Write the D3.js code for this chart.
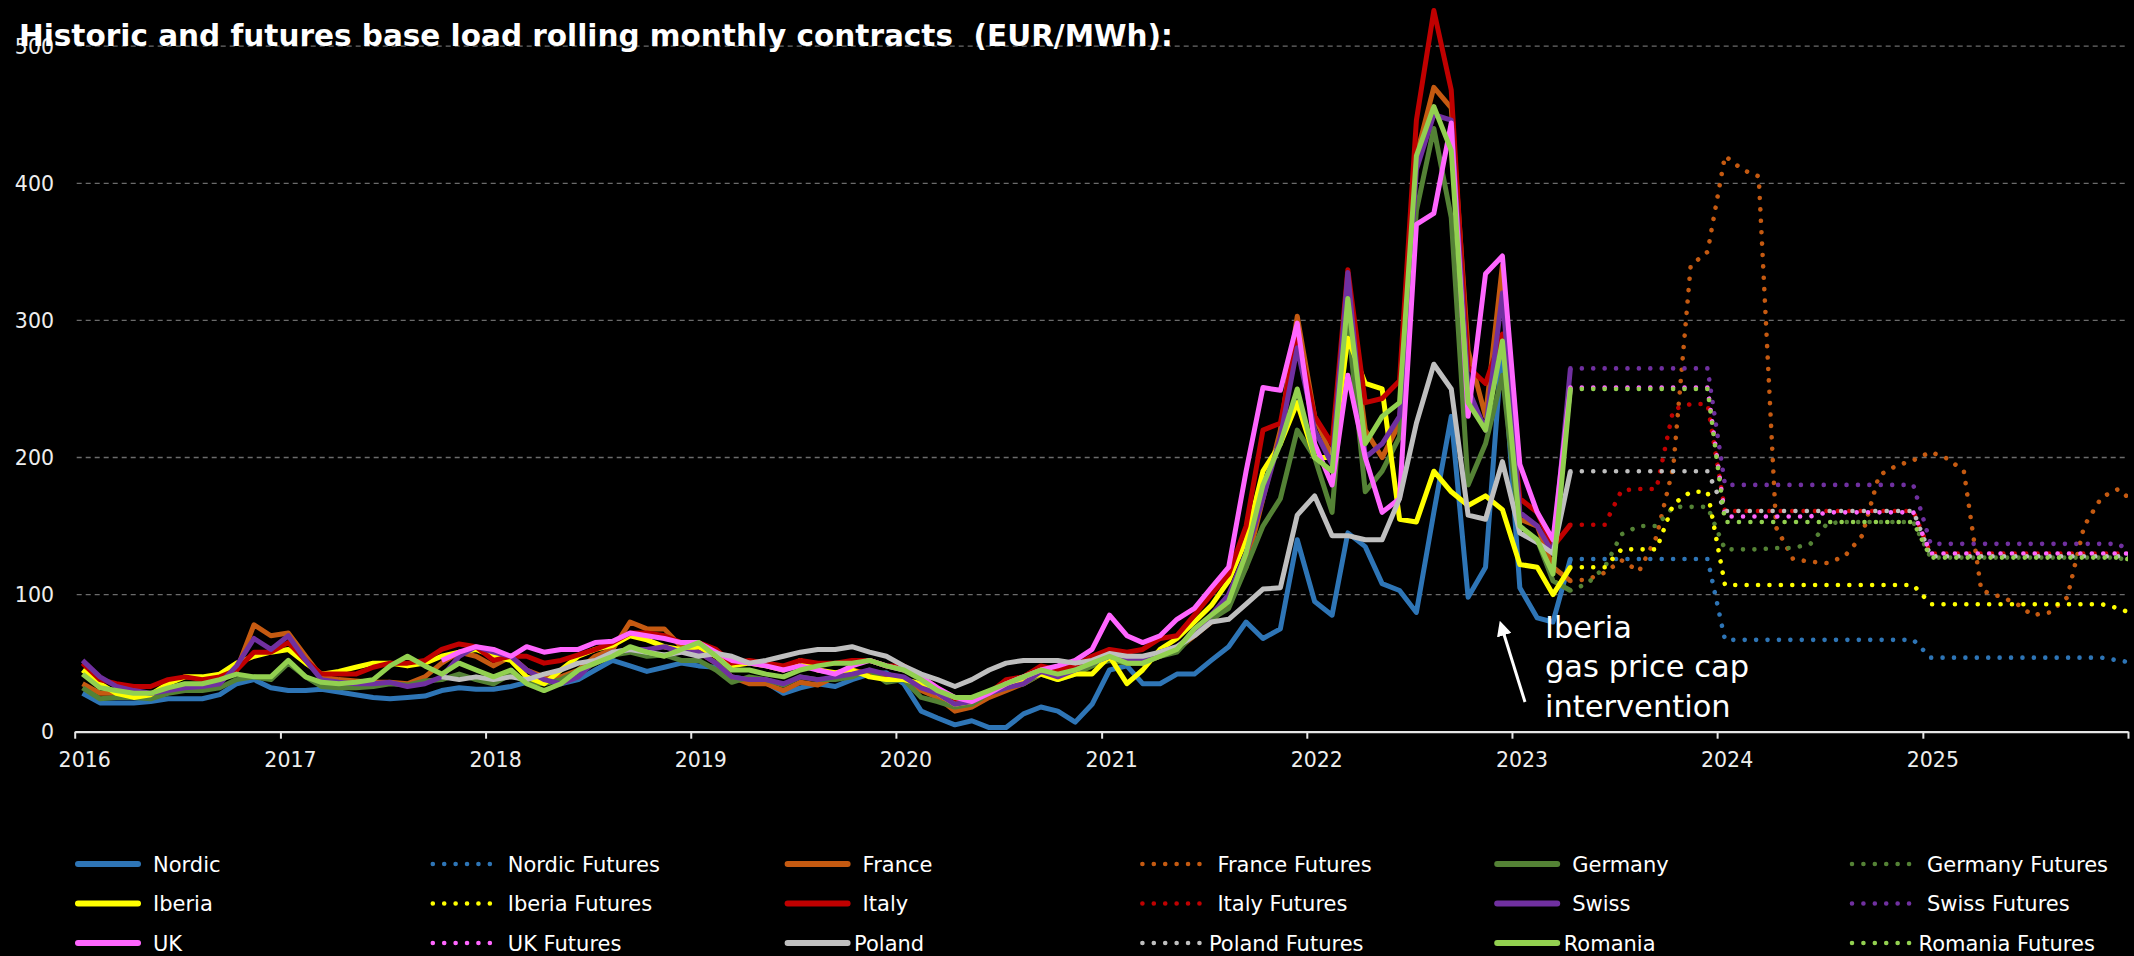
<html>
<head>
<script src="https://d3js.org/d3.v7.min.js"></script>
<style type="text/css">
  body { margin: 0; background: #000; }
  svg { display: block; background: #000; }
  .axis text { font-family: "DejaVu Sans", Verdana, sans-serif; font-size: 20.5px; fill: #eeeeee; }
  .legend text { font-family: "DejaVu Sans", Verdana, sans-serif; font-size: 21px; fill: #ffffff; }
</style>
</head>
<body>
<svg id="chart" width="2134" height="956"></svg>

<script>
// months: historic Jan 2016 - Apr 2023, futures Apr 2023 - Jan 2026
var histMonths = d3.utcMonth.range(new Date(Date.UTC(2016, 0, 1)), new Date(Date.UTC(2023, 4, 1)));
var futMonths = d3.utcMonth.range(new Date(Date.UTC(2023, 3, 1)), new Date(Date.UTC(2026, 1, 1)));
var yTicks = [0, 100, 200, 300, 400, 500];

var nordic = [28,21,21,21,22,24,24,24,27,35,38,32, 30,30,31,29,27,25,24,25,26,30,32,31,
  31,33,36,38,35,38,45,52,48,44,47,50, 48,47,40,38,36,28,32,35,33,38,42,43,
  35,15,10,5,8,3,3,13,18,15,7,20, 45,48,35,35,42,42,52,62,80,68,75,140,
  95,85,145,135,108,103,87,160,230,98,120,285, 105,83,80,126];
var france = [35,28,28,26,26,30,33,32,38,45,78,70, 72,55,40,38,37,36,36,35,40,50,58,55,
  48,55,45,40,40,45,55,60,80,75,75,62, 58,50,40,35,35,30,36,34,40,45,42,40,
  38,30,25,15,18,25,30,35,42,40,45,50, 55,50,50,55,60,70,80,95,120,170,220,303,
  230,200,320,220,200,225,420,470,455,278,230,340, 155,150,120,110];
var germany = [32,24,25,25,24,28,30,30,32,38,40,38, 50,40,33,32,32,33,35,34,37,38,42,38,
  35,42,36,35,38,44,50,56,58,55,56,52, 52,45,36,40,38,34,40,38,38,40,45,36,
  38,25,22,18,20,28,32,35,42,38,42,48, 52,50,50,55,58,72,82,90,120,150,170,220,
  200,160,300,175,190,215,380,440,375,180,210,260, 145,140,110,103];
var iberia = [45,35,28,25,27,35,40,40,42,50,55,58, 60,50,42,44,47,50,50,48,50,55,58,60,
  55,52,40,35,45,55,60,63,70,67,62,60, 62,55,48,50,48,45,52,45,43,45,40,38,
  38,35,28,20,22,28,35,38,42,38,42,42, 55,35,45,60,68,80,92,110,140,190,210,240,
  200,200,287,254,250,155,153,190,175,165,172,162, 122,120,100,120];
var italy = [50,38,35,33,33,38,40,38,40,45,58,58, 65,52,42,42,42,47,50,50,52,60,64,62,
  52,55,55,50,52,56,60,65,72,72,70,65, 65,60,50,52,50,48,52,50,50,52,52,48,
  48,40,32,24,22,28,38,40,48,45,48,55, 60,58,60,68,70,85,100,115,150,220,225,290,
  230,210,337,240,243,256,446,526,468,266,254,290, 170,160,135,151];
var swiss = [52,40,33,30,28,30,32,33,35,48,68,60, 70,52,38,36,35,35,36,33,35,40,55,62,
  58,55,45,38,35,40,52,58,60,60,62,58, 58,50,40,38,38,35,40,38,40,42,45,42,
  40,32,28,20,22,28,32,35,44,40,45,50, 55,52,52,58,62,72,85,100,130,170,215,280,
  220,195,335,200,210,230,410,450,446,250,220,320, 160,150,130,265];
var uk = [null,null,null,null,null,null,null,null,null,null,null,null,
  null,null,null,null,null,null,null,null,null,52,58,62,
  60,55,62,58,60,60,65,66,72,70,68,65, 65,58,52,50,48,45,48,45,42,48,52,48,
  45,40,32,25,22,28,35,40,45,48,52,60, 85,70,65,70,82,90,105,120,190,251,249,298,
  210,180,260,200,160,170,370,378,444,230,334,347, 195,160,140,251];
var poland = [null,null,null,null,null,null,null,null,null,null,null,null,
  null,null,null,null,null,null,null,null,null,40,38,40,
  38,40,38,42,45,50,52,58,60,58,56,58, 55,57,55,50,52,55,58,60,60,62,58,55,
  48,42,38,33,38,45,50,52,52,52,50,52, 57,55,55,58,62,70,80,82,93,104,105,158,
  172,143,143,140,140,170,225,268,250,158,155,197, 145,138,130,190];
var romania = [42,32,30,28,28,32,35,35,38,42,40,40, 52,40,36,35,36,38,48,55,48,42,50,45,
  40,45,35,30,35,45,50,55,62,58,55,60, 65,55,45,45,42,40,45,48,50,50,52,48,
  45,38,30,25,25,30,35,40,45,42,45,50, 55,50,50,55,60,75,85,95,130,180,210,250,
  200,190,316,210,230,240,420,456,424,240,220,285, 150,140,115,250];

var nordicF = [126,126,126,126,126,126,126,126,126, 67,67,67,67,67,67,67,67,67,67,67,67,
  54,54,54,54,54,54,54,54,54,54,54,52, 50];
var franceF = [110,111,116,125,117,142,193,340,350, 420,410,405,149,126,124,123,128,143,187,194,198,
  204,199,190,103,99,94,85,87,98,150,171,177, 166];
var germanyF = [103,108,120,144,150,150,164,164,164, 133,133,133,134,134,137,152,153,153,153,153,153,
  127,127,127,127,127,127,127,127,127,127,127,127, 122];
var iberiaF = [120,120,120,133,133,133,166,175,175, 107,107,107,107,107,107,107,107,107,107,107,107,
  93,93,93,93,93,93,93,93,93,93,93,90, 85];
var italyF = [151,151,151,176,177,177,235,239,239, 161,161,161,161,161,161,161,161,161,161,161,161,
  130,130,130,130,130,130,130,130,130,130,130,130, 130];
var swissF = [265,265,265,265,265,265,265,265,265, 180,180,180,180,180,180,180,180,180,180,180,180,
  137,137,137,137,137,137,137,137,137,137,137,137, 128];
var ukF = [251,251,251,251,251,251,251,251,251, 157,157,157,157,157,157,160,160,160,160,160,160,
  130,130,130,130,130,130,130,130,130,130,130,130, 130];
var polandF = [190,190,190,190,190,190,190,190,190, 161,161,161,161,161,161,161,161,161,161,161,161,
  128,128,128,128,128,128,128,128,128,128,128,128, 128];
var romaniaF = [250,250,250,250,250,250,250,250,250, 153,153,153,153,153,153,153,153,153,153,153,153,
  127,127,127,127,127,127,127,127,127,127,127,127, 125];

var series = [
  {name: "Nordic", color: "#2e75b6", values: nordic, dots: false},
  {name: "Nordic Futures", color: "#2e75b6", values: nordicF, dots: true},
  {name: "France", color: "#c55a11", values: france, dots: false},
  {name: "France Futures", color: "#c55a11", values: franceF, dots: true},
  {name: "Germany", color: "#548235", values: germany, dots: false},
  {name: "Germany Futures", color: "#548235", values: germanyF, dots: true},
  {name: "Iberia", color: "#ffff00", values: iberia, dots: false},
  {name: "Iberia Futures", color: "#ffff00", values: iberiaF, dots: true},
  {name: "Italy", color: "#c00000", values: italy, dots: false},
  {name: "Italy Futures", color: "#c00000", values: italyF, dots: true},
  {name: "Swiss", color: "#7030a0", values: swiss, dots: false},
  {name: "Swiss Futures", color: "#7030a0", values: swissF, dots: true},
  {name: "UK", color: "#ff66ff", values: uk, dots: false},
  {name: "UK Futures", color: "#ff66ff", values: ukF, dots: true},
  {name: "Poland", color: "#bfbfbf", values: poland, dots: false},
  {name: "Poland Futures", color: "#bfbfbf", values: polandF, dots: true},
  {name: "Romania", color: "#92d050", values: romania, dots: false},
  {name: "Romania Futures", color: "#92d050", values: romaniaF, dots: true}
];

function midMonth(m) { return d3.utcDay.offset(m, 14); }

function draw() {
  var svg = d3.select("#chart");
  var left = 74.7, right = 2128, top = 46.2, bottom = 731.7;

  var x = d3.scaleUtc()
    .domain([new Date(Date.UTC(2016, 0, 1)), new Date(Date.UTC(2026, 0, 1))])
    .range([left, right]);
  var y = d3.scaleLinear().domain([0, 500]).range([bottom, top]);

  // gridlines
  svg.append("g").selectAll("line")
    .data(yTicks.filter(function(d) { return d > 0; }))
    .enter().append("line")
      .attr("x1", left + 2).attr("x2", right)
      .attr("y1", function(d) { return y(d); }).attr("y2", function(d) { return y(d); })
      .style("stroke", "#6b6b6b").style("stroke-width", 1.3)
      .style("stroke-dasharray", "5,4");

  // y labels (the 500 label sits under the title, as in the original)
  var yAxis = svg.append("g").attr("class", "axis");
  yAxis.selectAll("text")
    .data(yTicks)
    .enter().append("text")
      .attr("x", 54).attr("y", function(d) { return y(d); })
      .attr("dy", "0.36em")
      .attr("text-anchor", "end")
      .text(function(d) { return d; });

  // x axis
  var xAxis = svg.append("g").attr("class", "axis")
    .attr("transform", "translate(0," + bottom + ")")
    .call(d3.axisBottom(x).ticks(d3.utcYear.every(1)).tickFormat(d3.utcFormat("%Y")).tickSize(7).tickSizeOuter(0));
  xAxis.select(".domain").style("stroke", "#e6e6e6").style("stroke-width", 2.2);
  xAxis.selectAll(".tick line").style("stroke", "#e6e6e6").style("stroke-width", 2);
  xAxis.selectAll(".tick text")
    .attr("dx", 9.5).attr("y", 21)
    .style("font-family", "'DejaVu Sans', Verdana, sans-serif")
    .style("font-size", "20.5px").style("fill", "#eeeeee")
    .filter(function(d) { return d.getUTCFullYear() == 2026; }).remove();

  // clip
  svg.append("clipPath").attr("id", "plotclip")
    .append("rect").attr("x", left).attr("y", 0)
    .attr("width", right - left).attr("height", bottom + 10);

  var plot = svg.append("g").attr("clip-path", "url(#plotclip)");

  series.forEach(function(s) {
    var months = s.dots ? futMonths : histMonths;
    var pts = s.values.map(function(v, i) { return {date: midMonth(months[i]), v: v}; });
    var line = d3.line()
      .defined(function(d) { return d.v != null; })
      .x(function(d) { return x(d.date); })
      .y(function(d) { return y(d.v); });
    var path = plot.append("path")
      .datum(pts)
      .attr("d", line)
      .style("fill", "none")
      .style("stroke", s.color)
      .style("stroke-linejoin", "round");
    if (s.dots) {
      path.style("stroke-width", 4.6)
        .style("stroke-linecap", "round")
        .style("stroke-dasharray", "0.01,11.4");
    } else {
      path.style("stroke-width", 5);
    }
  });

  // title
  svg.append("text")
    .attr("x", 19).attr("y", 46)
    .style("font-family", "'DejaVu Sans', Verdana, sans-serif")
    .style("font-weight", "bold").style("font-size", "29.5px")
    .style("fill", "#ffffff")
    .attr("xml:space", "preserve")
    .text("Historic and futures base load rolling monthly contracts  (EUR/MWh):");

  // annotation
  var defs = svg.append("defs");
  defs.append("marker").attr("id", "arrowhead")
    .attr("viewBox", "0 0 10 10").attr("refX", 5).attr("refY", 5)
    .attr("markerWidth", 5).attr("markerHeight", 5)
    .attr("orient", "auto")
    .append("path").attr("d", "M0,0 L10,5 L0,10 z").style("fill", "#ffffff");
  svg.append("line")
    .attr("x1", 1525).attr("y1", 702).attr("x2", 1502).attr("y2", 628)
    .style("stroke", "#ffffff").style("stroke-width", 3)
    .attr("marker-end", "url(#arrowhead)");
  var note = svg.append("text")
    .style("font-family", "'DejaVu Sans', Verdana, sans-serif")
    .style("font-size", "30.5px").style("fill", "#ffffff");
  ["Iberia", "gas price cap", "intervention"].forEach(function(t, i) {
    note.append("tspan").attr("x", 1545).attr("y", 638 + i * 39.3).text(t);
  });

  // legend (last row labels from column 3 on sit a little closer to their swatch)
  var leg = svg.append("g").attr("class", "legend");
  series.forEach(function(s, i) {
    var col = i % 6, row = Math.floor(i / 6);
    var lx = 75 + col * 354.8, ly = 864 + row * 39.5;
    var sw = leg.append("line")
      .attr("x1", lx + 3).attr("x2", lx + 63).attr("y1", ly).attr("y2", ly)
      .style("stroke", s.color);
    if (s.dots) {
      sw.style("stroke-width", 4.6).style("stroke-linecap", "round").style("stroke-dasharray", "0.01,11.4");
    } else {
      sw.style("stroke-width", 6).style("stroke-linecap", "round");
    }
    var shift = (row == 2 && col >= 2) ? -8.5 : 0;
    leg.append("text")
      .attr("x", lx + 78 + shift).attr("y", ly)
      .attr("dy", "0.36em")
      .text(s.name);
  });
}

draw();
</script>
</body>
</html>
